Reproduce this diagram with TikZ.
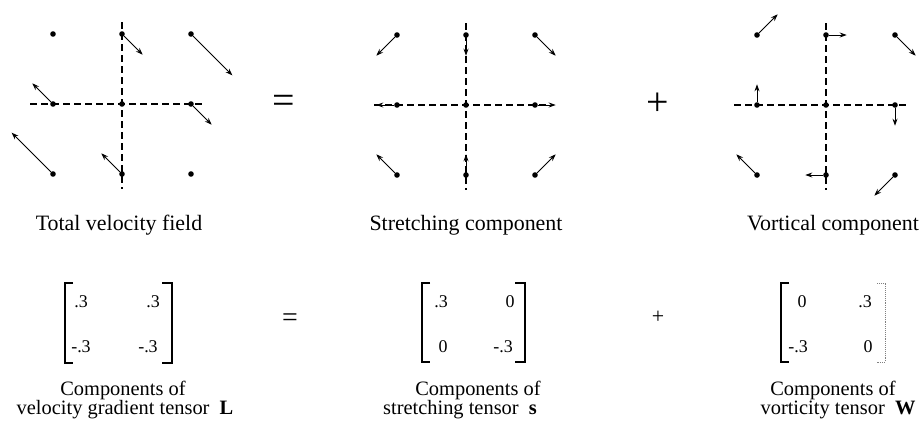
\documentclass[tikz,border=0pt]{standalone}
\usepackage{fontspec}
\setmainfont{Liberation Serif}
\usetikzlibrary{arrows.meta,calc}
\tikzset{
 dot/.style={circle,fill=black,inner sep=0pt,minimum size=5.6bp},
 vec/.style={line width=1bp,-{Stealth[length=7bp,width=5bp]}},
 axisline/.style={line width=1.1bp,dash pattern=on 7bp off 4bp},
 bracket/.style={line width=1.1bp},
 faintbracket/.style={line width=0.9bp,gray,densely dotted},
 lab/.style={font=\fontsize{22}{24}\selectfont,anchor=base,inner sep=0pt},
 caplab/.style={font=\fontsize{20.5}{22}\selectfont,anchor=base,inner sep=0pt},
 entry/.style={font=\fontsize{18}{18}\selectfont,inner sep=0pt},
 bigop/.style={font=\fontsize{40}{40}\selectfont,inner sep=0pt},
 smallop/.style={font=\fontsize{28}{28}\selectfont,inner sep=0pt},
}
% #1 name, #2 x0, #3 y0, #4..#7 tensor a b c d
\newcommand\velfield[7]{%
 \draw[axisline] ({#2},{#3-82}) coordinate (#1vt) -- ({#2},{#3+85}) coordinate (#1vb);
 \draw[axisline] ({#2-92},{#3}) coordinate (#1hl) -- ({#2+84},{#3}) coordinate (#1hr);
 \foreach \i/\ni in {-1/l,0/m,1/r}{
  \foreach \j/\nj in {-1/b,0/m,1/t}{
   \pgfmathsetmacro\vx{69*((#4)*\i+(#5)*\j)}
   \pgfmathsetmacro\vy{-69*((#6)*\i+(#7)*\j)}
   \node[dot] (#1\ni\nj) at ({#2+69*\i},{#3-70*\j}) {};
   \pgfmathtruncatemacro\hasvec{(abs(\vx)+abs(\vy))>0.1}
   \ifnum\hasvec=1
     \coordinate (#1\ni\nj tip) at ($(#1\ni\nj.center)+(\vx,\vy)$);
     \draw[vec] (#1\ni\nj) -- (#1\ni\nj tip);
   \fi
  }}}
\begin{document}
\begin{tikzpicture}[x=1bp,y=-1bp]
\useasboundingbox[fill=white] (0,0) rectangle (922,421);

% velocity fields
\velfield{A}{122}{104}{0.3}{0.3}{-0.3}{-0.3}
\velfield{B}{466}{105}{0.3}{0}{0}{-0.3}
\velfield{C}{826}{105}{0}{0.3}{-0.3}{0}

% operators
\node[bigop] (eq1) at (284,104) {=};
\node[bigop] (plus1) at (658,104) {+};
\node[smallop] (eq2) at (290,320) {=};
\node[font=\fontsize{22}{22}\selectfont,inner sep=0pt] (plus2) at (658,317) {+};

% titles
\node[lab] (tA) at (119,230) {Total velocity field};
\node[lab] (tB) at (466,230) {Stretching component};
\node[lab] (tC) at (833,230) {Vortical component};

% matrix L
\draw[bracket] (73,283) -- (65,283) -- (65,363) -- (73,363);
\draw[bracket] (162,283) -- (172,283) -- (172,363) -- (162,363);
\node[entry] (L11) at (81,302) {.3};
\node[entry] (L12) at (153,302) {.3};
\node[entry] (L21) at (81,347) {-.3};
\node[entry] (L22) at (148,347) {-.3};

% matrix s
\draw[bracket] (430,283) -- (422,283) -- (422,362) -- (430,362);
\draw[bracket] (515,283) -- (525,283) -- (525,362) -- (515,362);
\node[entry] (S11) at (441,302) {.3};
\node[entry] (S12) at (510,302) {0};
\node[entry] (S21) at (443,347) {0};
\node[entry] (S22) at (503,347) {-.3};

% matrix W
\draw[bracket] (789,283) -- (781,283) -- (781,362) -- (789,362);
\draw[faintbracket] (877,283) -- (885,283) -- (885,362) -- (877,362);
\node[entry] (W11) at (802,302) {0};
\node[entry] (W12) at (865,302) {.3};
\node[entry] (W21) at (798,347) {-.3};
\node[entry] (W22) at (868,347) {0};

% captions
\node[caplab] (cA1) at (123,395) {Components of};
\node[caplab] (cA2) at (125,414) {velocity gradient tensor\ \ \textbf{L}};
\node[caplab] (cB1) at (478,395) {Components of};
\node[caplab] (cB2) at (460,414) {stretching tensor\ \ \textbf{s}};
\node[caplab] (cC1) at (833,395) {Components of};
\node[caplab] (cC2) at (838,414) {vorticity tensor\ \ \textbf{W}};
\end{tikzpicture}
\end{document}
